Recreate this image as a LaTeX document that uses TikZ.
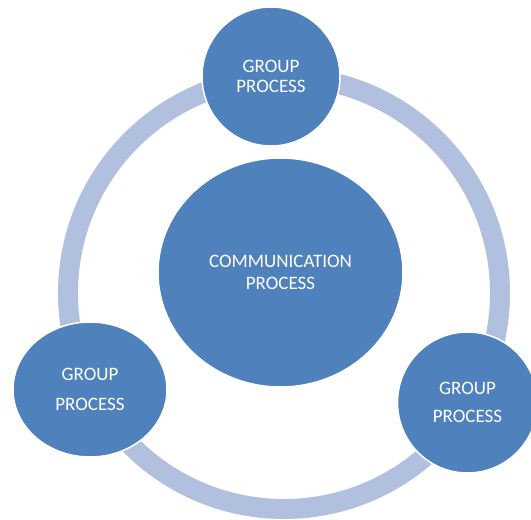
\documentclass[tikz,border=0pt]{standalone}
\usepackage{fontspec}
\setmainfont{Carlito}
\usetikzlibrary{shapes.geometric}
\definecolor{darkblue}{HTML}{4F81BD}
\definecolor{ringblue}{HTML}{B0C0DE}
\tikzset{
  proc/.style={ellipse, fill=darkblue, draw=white, line width=1.5pt, inner sep=0pt,
    text=white, align=center, font=\fontsize{19}{20}\selectfont},
  ring/.style={draw=ringblue, line width=20pt}
}
\begin{document}
\begin{tikzpicture}[x=1pt,y=-1pt]
\useasboundingbox (0,0) rectangle (531,520);
\begin{scope}
\clip (0,0) rectangle (531,520);
\coordinate (c) at (284,293);
\draw[ring] (c) circle (216pt);
\node[proc, minimum width=245pt, minimum height=229pt, font=\fontsize{19}{21.7}\selectfont] (comm) at (280.5,272.5) {COMMUNICATION\\PROCESS};
\node[proc, minimum width=138pt, minimum height=139pt, font=\fontsize{19}{20}\selectfont] (top) at (271,76.5) {GROUP\\PROCESS};
\node[proc, minimum width=154pt, minimum height=135pt, font=\fontsize{19}{30}\selectfont] (left) at (90,389.5) {GROUP\\PROCESS};
\node[proc, minimum width=140pt, minimum height=141pt, font=\fontsize{19}{28}\selectfont] (right) at (467.5,402.5) {GROUP\\PROCESS};
\end{scope}
\end{tikzpicture}
\end{document}
